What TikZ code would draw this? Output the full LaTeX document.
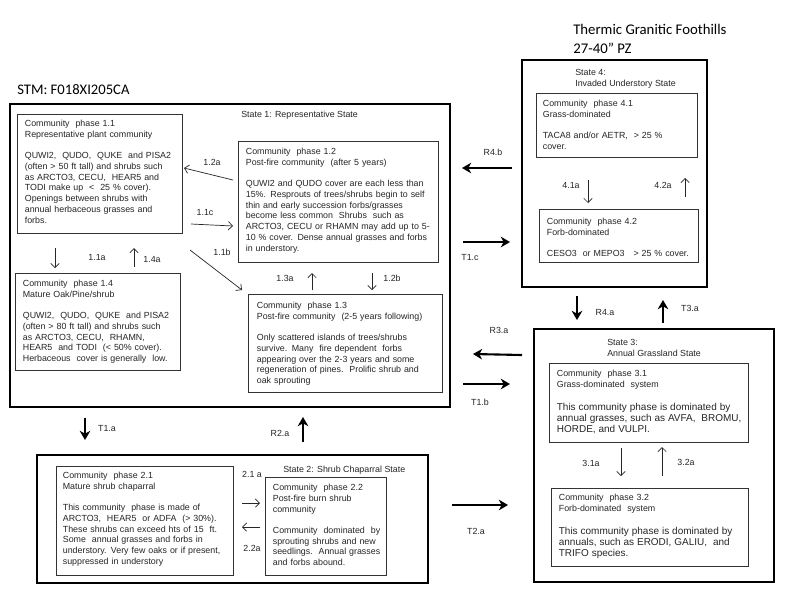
\documentclass[tikz,border=0pt]{standalone}
\usepackage{fontspec}
\setmainfont{Liberation Sans}
\newfontfamily\calibri{Carlito}
\usetikzlibrary{arrows.meta,fit}

\newcommand\smalltxt{\fontsize{6.3}{7.8}\selectfont}
\newcommand\bigtxt{\fontsize{7.1}{8.2}\selectfont}

\tikzset{
  statebox/.style={draw=black, line width=2pt, inner sep=0pt},
  phasebox/.style={draw=black!80, line width=0.6pt, inner sep=0pt},
  txt/.style={font=\smalltxt, text=black!85, align=left, inner sep=0pt, anchor=north west, text width=5.5cm},
  lbl/.style={font=\smalltxt, text=black!85, inner sep=0pt},
  thinarr/.style={-{Straight Barb[length=3pt,width=6pt]}, line width=0.5pt, black!85},
  thickarr/.style={-{Stealth[length=6.5pt,width=7.5pt,inset=2pt]}, line width=1.5pt},
}

\begin{document}
\begin{tikzpicture}[x=0.025cm, y=-0.025cm]
  \fill[white] (0,0) rectangle (800,600);
  \useasboundingbox (0,0) rectangle (800,600);

  % titles
  \node[anchor=west, inner sep=0pt, font={\calibri\fontsize{10.4}{12}\selectfont}] (stm) at (17,90) {STM: F018XI205CA};
  \node[anchor=north west, inner sep=0pt, align=left, font={\calibri\fontsize{10.5}{13.5}\selectfont}] (site) at (573,24) {Thermic Granitic Foothills\\27-40” PZ};

  % states
  \node[statebox, fit={(10,104) (450,407)}] (s1) {};
  \node[statebox, fit={(522,60) (707,287)}] (s4) {};
  \node[statebox, fit={(534,329) (774,582)}] (s3) {};
  \node[statebox, fit={(37,455) (428,583)}] (s2) {};

  \node[lbl, anchor=west] (s1t) at (241,115) {State 1: Representative State};
  \node[lbl, anchor=north west, align=left] (s4t) at (575,69) {State 4:\\Invaded Understory State};
  \node[lbl, anchor=north west, align=left] (s3t) at (607,339) {State 3:\\Annual Grassland State};
  \node[lbl, anchor=west] (s2t) at (283,470) {State 2: Shrub Chaparral State};

  % community phases
  \node[phasebox, fit={(17,114) (182,233)}] (p11) {};
  \node[phasebox, fit={(238,141) (438,262)}] (p12) {};
  \node[phasebox, fit={(248,294) (442,392)}] (p13) {};
  \node[phasebox, fit={(15,273) (180,370)}] (p14) {};
  \node[phasebox, fit={(536,93) (697,157)}] (p41) {};
  \node[phasebox, fit={(539,209) (698,262)}] (p42) {};
  \node[phasebox, fit={(549,363) (748,442)}] (p31) {};
  \node[phasebox, fit={(551,488) (748,566)}] (p32) {};
  \node[phasebox, fit={(56,466) (233,575)}] (p21) {};
  \node[phasebox, fit={(265,477) (386,575)}] (p22) {};

  \node[txt] (t11) at ([shift={(8,6)}]p11.north west) {Community\ \ phase 1.1\\
    Representative plant community\\[7pt]
    QUWI2,\ \ QUDO,\ \ QUKE\ \ and PISA2\\
    (often > 50 ft tall) and shrubs such\\
    as ARCTO3, CECU,\ \ HEAR5 and\\
    TODI make up\ \ <\ \ 25 \% cover).\\
    Openings between shrubs with\\
    annual herbaceous grasses and\\
    forbs.};
  \node[txt] (t12) at ([shift={(8,7)}]p12.north west) {Community\ \ phase 1.2\\
    Post-fire community\ \ (after 5 years)\\[7pt]
    QUWI2 and QUDO cover are each less than\\
    15\%. Resprouts of trees/shrubs begin to self\\
    thin and early succession forbs/grasses\\
    become less common\ \ Shrubs\ \ such as\\
    ARCTO3, CECU or RHAMN may add up to 5-\\
    10 \% cover. Dense annual grasses and forbs\\
    in understory.};
  \node[txt] (t13) at ([shift={(9,8)}]p13.north west) {Community\ \ phase 1.3\\
    Post-fire community\ \ (2-5 years following)\\[7pt]
    Only scattered islands of trees/shrubs\\
    survive. Many\ \ fire dependent\ \ forbs\\
    appearing over the 2-3 years and some\\
    regeneration of pines.\ \ Prolific shrub and\\
    oak sprouting};
  \node[txt] (t14) at ([shift={(8,7)}]p14.north west) {Community\ \ phase 1.4\\
    Mature Oak/Pine/shrub\\[7pt]
    QUWI2,\ \ QUDO,\ \ QUKE\ \ and PISA2\\
    (often > 80 ft tall) and shrubs such\\
    as ARCTO3, CECU,\ \ RHAMN,\\
    HEAR5\ \ and TODI\ \ (< 50\% cover).\\
    Herbaceous\ \ cover is generally\ \ low.};
  \node[txt] (t41) at ([shift={(7,7)}]p41.north west) {Community\ \ phase 4.1\\
    Grass-dominated\\[7pt]
    TACA8 and/or AETR,\ \ > 25 \%\\
    cover.};
  \node[txt] (t42) at ([shift={(8,9)}]p42.north west) {Community\ \ phase 4.2\\
    Forb-dominated\\[7pt]
    CESO3\ \ or MEPO3\ \ \ > 25 \% cover.};
  \node[txt] (t31) at ([shift={(8,7)}]p31.north west) {Community\ \ phase 3.1\\
    Grass-dominated\ \ system\par\vspace{8pt}\bigtxt
    This community phase is dominated by\\
    annual grasses, such as AVFA,\ \ BROMU,\\
    HORDE, and VULPI.};
  \node[txt] (t32) at ([shift={(8,6)}]p32.north west) {Community\ \ phase 3.2\\
    Forb-dominated\ \ system\par\vspace{8pt}\bigtxt
    This community phase is dominated by\\
    annuals, such as ERODI, GALIU,\ \ and\\
    TRIFO species.};
  \node[txt] (t21) at ([shift={(7,6)}]p21.north west) {Community\ \ phase 2.1\\
    Mature shrub chaparral\\[7pt]
    This community\ \ phase is made of\\
    ARCTO3,\ \ HEAR5\ \ or ADFA\ \ (> 30\%).\\
    These shrubs can exceed hts of 15\ \ ft.\\
    Some\ \ annual grasses and forbs in\\
    understory. Very few oaks or if present,\\
    suppressed in understory};
  \node[txt] (t22) at ([shift={(8,7)}]p22.north west) {Community\ \ phase 2.2\\
    Post-fire burn shrub\\
    community\\[7pt]
    Community\ \ dominated\ \ by\\
    sprouting shrubs and new\\
    seedlings.\ \ Annual grasses\\
    and forbs abound.};

  % pathways inside states
  \foreach \nm/\lab/\xa/\ya/\xb/\yb/\lx/\ly in {
    a12a/1.2a/233/180/184/168/212/162,
    a11c/1.1c/191/224/233/226/205/212,
    a11b/1.1b/190/250/242/290/222/252,
    a11a/1.1a/55/248/55/268/97/257,
    a14a/1.4a/134/267/134/248/152/259,
    a13a/1.3a/312/290/312/273/285/278,
    a12b/1.2b/372/273/372/290/392/278,
    a41a/4.1a/588/180/588/203/571/185,
    a42a/4.2a/685/197/685/178/663/185,
    a31a/3.1a/621/448/621/476/591/463,
    a32a/3.2a/662/476/662/447/686/462,
    a21a/2.1 a/242/503/260/503/252/474,
    a22a/2.2a/260/527/242/527/252/548}{
    \coordinate (\nm-s) at (\xa,\ya);
    \coordinate (\nm-e) at (\xb,\yb);
    \draw[thinarr] (\nm-s) -- (\nm-e);
    \node[lbl] (\nm-l) at (\lx,\ly) {\lab};
  }

  % transitions and restorations
  \foreach \nm/\lab/\xa/\ya/\xb/\yb/\lx/\ly in {
    r4b/R4.b/512/168/462/168/493/152,
    t1c/T1.c/463/242/510/242/470/257,
    r3a/R3.a/522/355/473/354/499/330,
    t1b/T1.b/463/384/510/384/480/402,
    t2a/T2.a/452/505/508/505/476/531,
    t1a/T1.a/85/418/85/440/107/428,
    r2a/R2.a/303/442/303/417/280/433,
    r4a/R4.a/577/296/577/320/605/312,
    t3a/T3.a/663/323/663/300/690/308}{
    \coordinate (\nm-s) at (\xa,\ya);
    \coordinate (\nm-e) at (\xb,\yb);
    \draw[thickarr] (\nm-s) -- (\nm-e);
    \node[lbl] (\nm-l) at (\lx,\ly) {\lab};
  }
\end{tikzpicture}
\end{document}
